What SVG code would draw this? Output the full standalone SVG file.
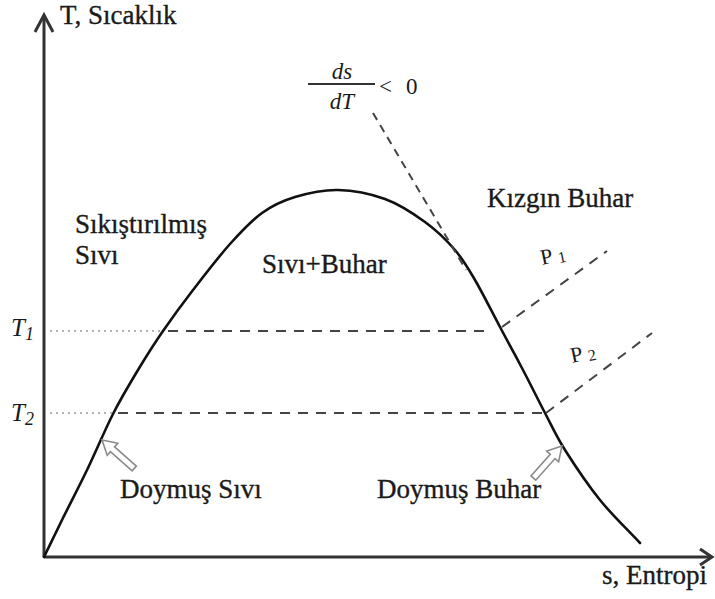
<svg xmlns="http://www.w3.org/2000/svg" width="715" height="599" viewBox="0 0 715 599">
<style>
text{font-family:"Liberation Serif","Times New Roman",serif;fill:#1a1a1a}
.lbl{font-size:27px;stroke:#1a1a1a;stroke-width:0.35}
.it{font-style:italic}
.axis{stroke:#333;stroke-width:3;fill:none}
.curve{stroke:#111;stroke-width:2.6;fill:none;stroke-linejoin:round;stroke-linecap:round}
.dash{stroke:#444;stroke-width:2;fill:none;stroke-dasharray:10 8}
.dot{stroke:#999;stroke-width:1.6;fill:none;stroke-dasharray:2 4}
.harrow{fill:#fff;stroke:#8a8a8a;stroke-width:1.6;stroke-linejoin:miter}
</style>
<defs>
<polygon id="hollow" points="0,0 -14,-8 -14,-3.2 -43,-3.2 -43,3.2 -14,3.2 -14,8"/>
</defs>
<rect width="715" height="599" fill="#fff"/>

<g id="axes">
<polyline class="axis" points="44,557 44,15"/>
<polyline class="axis" points="35,32 44,15 53,32"/>
<polyline class="axis" points="44,557 711,557"/>
<polyline class="axis" points="700,549 712,557 700,565"/>
</g>

<g id="dome">
<path class="curve" d="M44,557 C50,544.7 54.7,534.8 62,520 C69.3,505.2 79.5,485.7 88,468 C96.5,450.3 104.7,430.3 113,414 C121.3,397.7 129.7,383.8 138,370 C146.3,356.2 153.8,344.3 163,331 C172.2,317.7 181.8,304.5 193,290 C204.2,275.5 218.5,256.8 230,244 C241.5,231.2 251.2,220.8 262,213 C272.8,205.2 282.3,200.8 295,197 C307.7,193.2 323,189.7 338,190 C353,190.3 370.5,193.7 385,199 C399.5,204.3 413.3,213.5 425,222 C436.7,230.5 446.7,240.3 455,250 C463.3,259.7 467.5,267.2 475,280 C482.5,292.8 492,312 500,327 C508,342 515.5,355.7 523,370 C530.5,384.3 538,399.7 545,413 C552,426.3 555.8,435.5 565,450 C574.2,464.5 587.5,484.5 600,500 C612.5,515.5 626.7,528.7 640,543"/>
</g>

<g id="connectors">
<line class="dot" x1="50" y1="331" x2="162" y2="331"/>
<line class="dash" x1="168" y1="331" x2="486" y2="331"/>
<line class="dot" x1="50" y1="413" x2="113" y2="413"/>
<line class="dash" x1="118" y1="413" x2="545" y2="413"/>
<line class="dash" x1="502" y1="327" x2="607" y2="251"/>
<line class="dash" x1="546" y1="413" x2="652" y2="333"/>
<line class="dash" x1="373" y1="113" x2="466" y2="270" style="stroke-dasharray:8 6"/>
<line x1="308" y1="84" x2="375" y2="84" stroke="#333" stroke-width="2"/>
<use href="#hollow" class="harrow" transform="translate(102,440) rotate(-138.6)"/>
<use href="#hollow" class="harrow" transform="translate(562,446) rotate(-48.2)"/>
</g>

<g id="label-T"><text class="lbl" x="60" y="24">T, Sıcaklık</text></g>
<g id="label-s"><text class="lbl" x="707" y="584" text-anchor="end">s, Entropi</text></g>
<g id="label-slope">
<text class="it" x="342" y="79" font-size="23" text-anchor="middle">ds</text>
<text class="it" x="342" y="109" font-size="23" text-anchor="middle">dT</text>
<text x="379" y="94" font-size="23">&lt;</text>
<text x="406" y="94" font-size="23">0</text>
</g>
<g id="region-compressed">
<text class="lbl" x="75" y="233">Sıkıştırılmış</text>
<text class="lbl" x="75" y="264">Sıvı</text>
</g>
<g id="region-mix"><text class="lbl" x="262" y="273">Sıvı+Buhar</text></g>
<g id="region-superheated"><text class="lbl" x="487" y="207">Kızgın Buhar</text></g>
<g id="label-sat-liquid"><text class="lbl" x="120" y="498">Doymuş Sıvı</text></g>
<g id="label-sat-vapor"><text class="lbl" x="377" y="498">Doymuş Buhar</text></g>
<g id="label-T1"><text class="it" x="11" y="336" font-size="25">T<tspan font-size="18" dy="4">1</tspan></text></g>
<g id="label-T2"><text class="it" x="11" y="421" font-size="25">T<tspan font-size="18" dy="4">2</tspan></text></g>
<g id="label-P1"><text x="542" y="265" font-size="22" transform="rotate(-12 542 265)">P<tspan font-size="16" dx="5" dy="2">1</tspan></text></g>
<g id="label-P2"><text x="572" y="363" font-size="22" transform="rotate(-12 572 363)">P<tspan font-size="16" dx="5" dy="2">2</tspan></text></g>
</svg>
